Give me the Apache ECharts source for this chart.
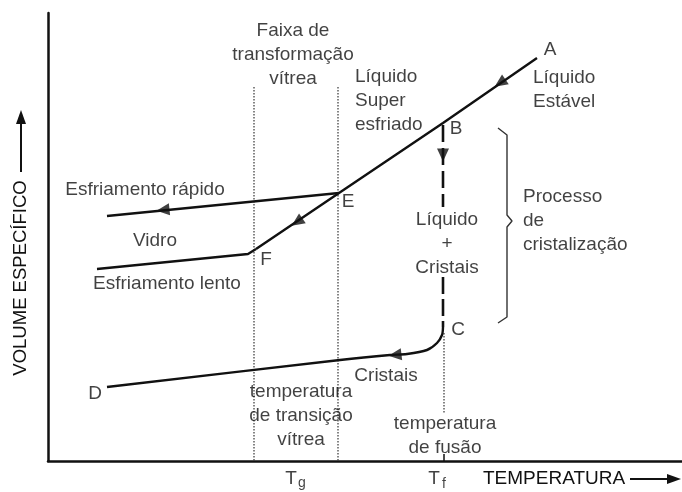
<!DOCTYPE html>
<html>
<head>
<meta charset="utf-8">
<script src="https://cdn.jsdelivr.net/npm/echarts@6/dist/echarts.min.js"></script>
<style>
  html, body { margin: 0; padding: 0; background: #fff; }
  #chart { width: 682px; height: 492px; }
</style>
</head>
<body>
<div id="chart"></div>
<script>
// curva de volume especifico x temperatura (unidades arbitrarias)
const liquidLine = [[489, 403], [395, 338], [291, 268], [208, 212]]   // A, B, E, F
const rapidCooling = [[291, 268], [59, 245]]
const slowCooling = [[208, 212], [200, 207], [49, 192]]
const crystallizingTop = [[395, 336], [395, 254]]
const crystallizingBottom = [[395, 184], [395, 134]]
const crystalLine = [[395, 134], [394, 126], [389, 118], [379, 111], [359, 107], [342, 106], [292, 101], [59, 74]]
const glassRangeLow = [[206, 374], [206, 0]]
const glassRangeHigh = [[290, 374], [290, 0]]
const meltLine = [[396, 128], [396, 48]]
const meltTick = [[396, 7], [396, 0]]
const brace = [[450, 333], [459, 326], [459, 246], [464, 240], [459, 234], [459, 144], [450, 138]]

// setas: x, y, rotacao
const arrows = [[452, 378, 124], [249, 239, 124], [115, 251, 96], [395, 306, 180], [347, 106, 97]]

// textos
const centerNotes = [
    ['Faixa de\ntransformação\nvítrea', 245, 406],
    ['A', 502, 411],
    ['B', 408, 332],
    ['E', 300, 259],
    ['Líquido\n+\nCristais', 399, 217],
    ['C', 410, 131],
    ['Cristais', 338, 85],
    ['temperatura\nde fusão', 397, 25],
    ['temperatura\nde transição\nvítrea', 253, 45],
    ['D', 47, 67],
    ['F', 218, 201],
    ['Esfriamento lento', 119, 177],
    ['Esfriamento rápido', 97, 271],
    ['Vidro', 107, 220]
]
const leftNotes = [
    ['Líquido\nSuper\nesfriado', 307, 360],
    ['Líquido\nEstável', 485, 371],
    ['Processo\nde\ncristalização', 475, 240]
]
const tempMarks = [['T', 243, -18], ['T', 386, -18]]
const tempSubs = [['g', 254, -22], ['f', 396, -23]]

const FONT = '"Liberation Sans", Arial, sans-serif'
const INK = '#111'

const line = (data, extra) => Object.assign({
    type: 'line', data: data, showSymbol: false, silent: true,
    lineStyle: { color: INK, width: 2.4 }
}, extra)

const dotted = data => line(data, { lineStyle: { color: '#333', width: 1.2, type: [1.5, 1.5] } })

const notes = (list, pos, size) => ({
    type: 'scatter', symbolSize: 0, clip: false, silent: true,
    data: list.map(n => ({ value: [n[1], n[2]], name: n[0] })),
    label: {
        show: true, position: pos, distance: 0,
        formatter: p => p.name,
        fontFamily: FONT, fontSize: size, color: INK, lineHeight: 24,
        align: pos === 'right' ? 'left' : 'center'
    },
    z: 5
})

const myChart = echarts.init(document.getElementById('chart'))
myChart.setOption({
    animation: false,
    backgroundColor: '#fff',
    grid: { left: 48, right: 0, top: 13, bottom: 31 },
    xAxis: {
        type: 'value', min: 0, max: 634,
        axisLine: { show: true, lineStyle: { color: INK, width: 2.5 } },
        axisTick: { show: false }, axisLabel: { show: false }, splitLine: { show: false }
    },
    yAxis: {
        type: 'value', min: 0, max: 448,
        axisLine: { show: true, lineStyle: { color: INK, width: 2.5 } },
        axisTick: { show: false }, axisLabel: { show: false }, splitLine: { show: false }
    },
    series: [
        dotted(glassRangeLow),
        dotted(glassRangeHigh),
        dotted(meltLine),
        line(meltTick, { lineStyle: { color: INK, width: 1.5 } }),
        line(liquidLine),
        line(rapidCooling),
        line(slowCooling),
        line(crystallizingTop, { lineStyle: { color: INK, width: 2.6, type: [17, 6] } }),
        line(crystallizingBottom, { lineStyle: { color: INK, width: 2.6, type: [17, 5] } }),
        line(crystalLine, { smooth: 0.3 }),
        line(brace, { lineStyle: { color: '#333', width: 1.4 } }),
        {
            type: 'scatter', symbol: 'triangle', symbolSize: [12, 13], silent: true,
            data: arrows.map(a => ({ value: [a[0], a[1]], symbolRotate: a[2] })),
            itemStyle: { color: INK }
        },
        notes(centerNotes, 'inside', 19),
        notes(leftNotes, 'right', 19),
        notes(tempMarks, 'inside', 19),
        notes(tempSubs, 'inside', 14)
    ],
    graphic: [
        {
            type: 'text', x: 21, y: 278, rotation: Math.PI / 2,
            style: { text: 'VOLUME ESPECÍFICO', font: '18.5px ' + FONT, fill: INK, align: 'center', verticalAlign: 'middle' }
        },
        { type: 'line', shape: { x1: 21, y1: 172, x2: 21, y2: 120 }, style: { stroke: INK, lineWidth: 2 } },
        { type: 'polygon', shape: { points: [[21, 110], [16, 124], [26, 124]] }, style: { fill: INK } },
        {
            type: 'text', x: 483, y: 479,
            style: { text: 'TEMPERATURA', font: '19px ' + FONT, fill: INK, align: 'left', verticalAlign: 'middle' }
        },
        { type: 'line', shape: { x1: 630, y1: 479, x2: 670, y2: 479 }, style: { stroke: INK, lineWidth: 2 } },
        { type: 'polygon', shape: { points: [[681, 479], [667, 474], [667, 484]] }, style: { fill: INK } }
    ]
})
</script>
</body>
</html>
